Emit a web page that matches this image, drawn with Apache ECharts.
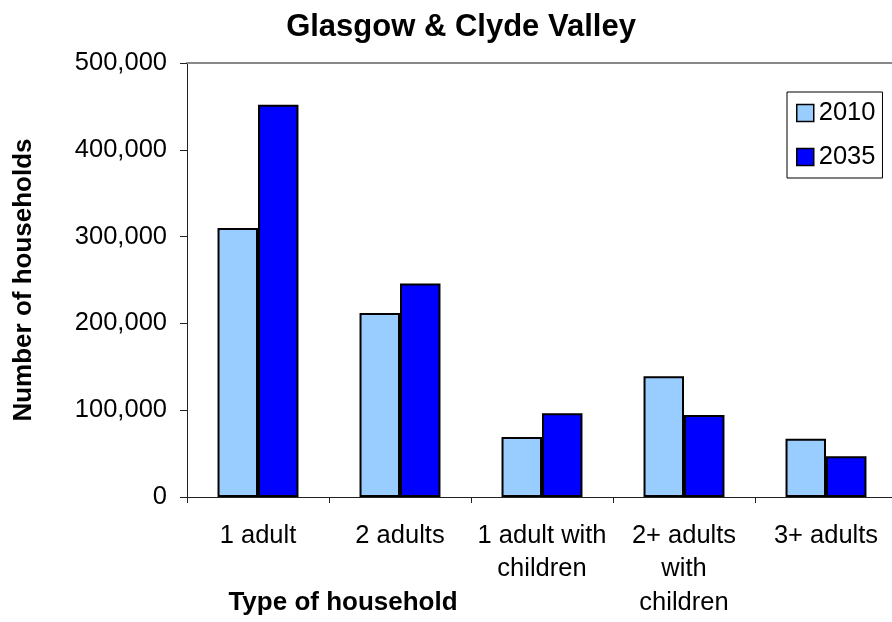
<!DOCTYPE html>
<html>
<head>
<meta charset="utf-8">
<script src="https://cdn.jsdelivr.net/npm/echarts@6/dist/echarts.min.js"></script>
<style>
  html, body { margin: 0; padding: 0; background: #fff; }
  #main { width: 892px; height: 622px; }
</style>
</head>
<body>
<div id="main"></div>
<script>
// household types and projected counts
const categories = ['1 adult', '2 adults', '1 adult with\nchildren', '2+ adults\nwith\nchildren', '3+ adults'];
const households2010 = [310000, 212000, 69000, 139000, 67000];
const households2035 = [452000, 246000, 96500, 94500, 47000];
const seriesNames = ['2010', '2035'];

const font = '"Liberation Sans", Arial, sans-serif';
const chart = echarts.init(document.getElementById('main'));

const barStyle = (color) => ({ color, borderColor: '#000', borderWidth: 2 });

chart.setOption({
  animation: false,
  textStyle: { fontFamily: font },
  graphic: [
    {
      type: 'text', x: 461, y: 27,
      style: { text: 'Glasgow & Clyde Valley', font: 'bold 31px ' + font, fill: '#000', align: 'center', verticalAlign: 'middle' }
    },
    {
      type: 'text', x: 343, y: 603,
      style: { text: 'Type of household', font: 'bold 26px ' + font, fill: '#000', align: 'center', verticalAlign: 'middle' }
    }
  ],
  legend: {
    orient: 'vertical',
    left: 787,
    top: 92,
    padding: [8, 7, 8, 9],
    itemWidth: 17,
    itemHeight: 17,
    itemGap: 18,
    borderColor: '#000',
    borderWidth: 1,
    itemStyle: { borderColor: '#000', borderWidth: 1.5 },
    textStyle: { fontSize: 25.5, color: '#000', lineHeight: 26, fontFamily: font },
    data: seriesNames.map((name) => ({ name, icon: 'rect' }))
  },
  grid: { left: 187, top: 63, width: 710, height: 434, outerBoundsMode: 'none', containLabel: false },
  xAxis: [
    {
      type: 'category',
      data: categories,
      axisLine: { lineStyle: { color: '#222', width: 1 } },
      axisTick: { show: true, length: 6, lineStyle: { color: '#222' } },
      axisLabel: { interval: 0, fontSize: 25.5, color: '#000', lineHeight: 33.5, margin: 22, fontFamily: font }
    },
    {
      type: 'category',
      position: 'top',
      data: categories,
      axisLine: { lineStyle: { color: '#888', width: 2 } },
      axisTick: { show: false },
      axisLabel: { show: false }
    }
  ],
  yAxis: {
    type: 'value',
    min: 0,
    max: 500000,
    interval: 100000,
    name: 'Number of households',
    nameLocation: 'middle',
    nameRotate: 90,
    nameGap: 150,
    nameTextStyle: { fontSize: 26, fontWeight: 'bold', color: '#000', fontFamily: font },
    axisLine: { show: true, lineStyle: { color: '#222', width: 1 } },
    axisTick: { show: true, length: 7, lineStyle: { color: '#222' } },
    splitLine: { show: false },
    axisLabel: {
      fontSize: 25.5, color: '#000', margin: 20, fontFamily: font,
      formatter: (v) => v.toLocaleString('en-US')
    }
  },
  series: [
    {
      name: seriesNames[0],
      type: 'bar',
      data: households2010,
      barGap: '0%',
      barCategoryGap: '43%',
      itemStyle: barStyle('#99CCFF')
    },
    {
      name: seriesNames[1],
      type: 'bar',
      data: households2035,
      barGap: '0%',
      barCategoryGap: '43%',
      itemStyle: barStyle('#0000FF')
    }
  ]
});
</script>
</body>
</html>
